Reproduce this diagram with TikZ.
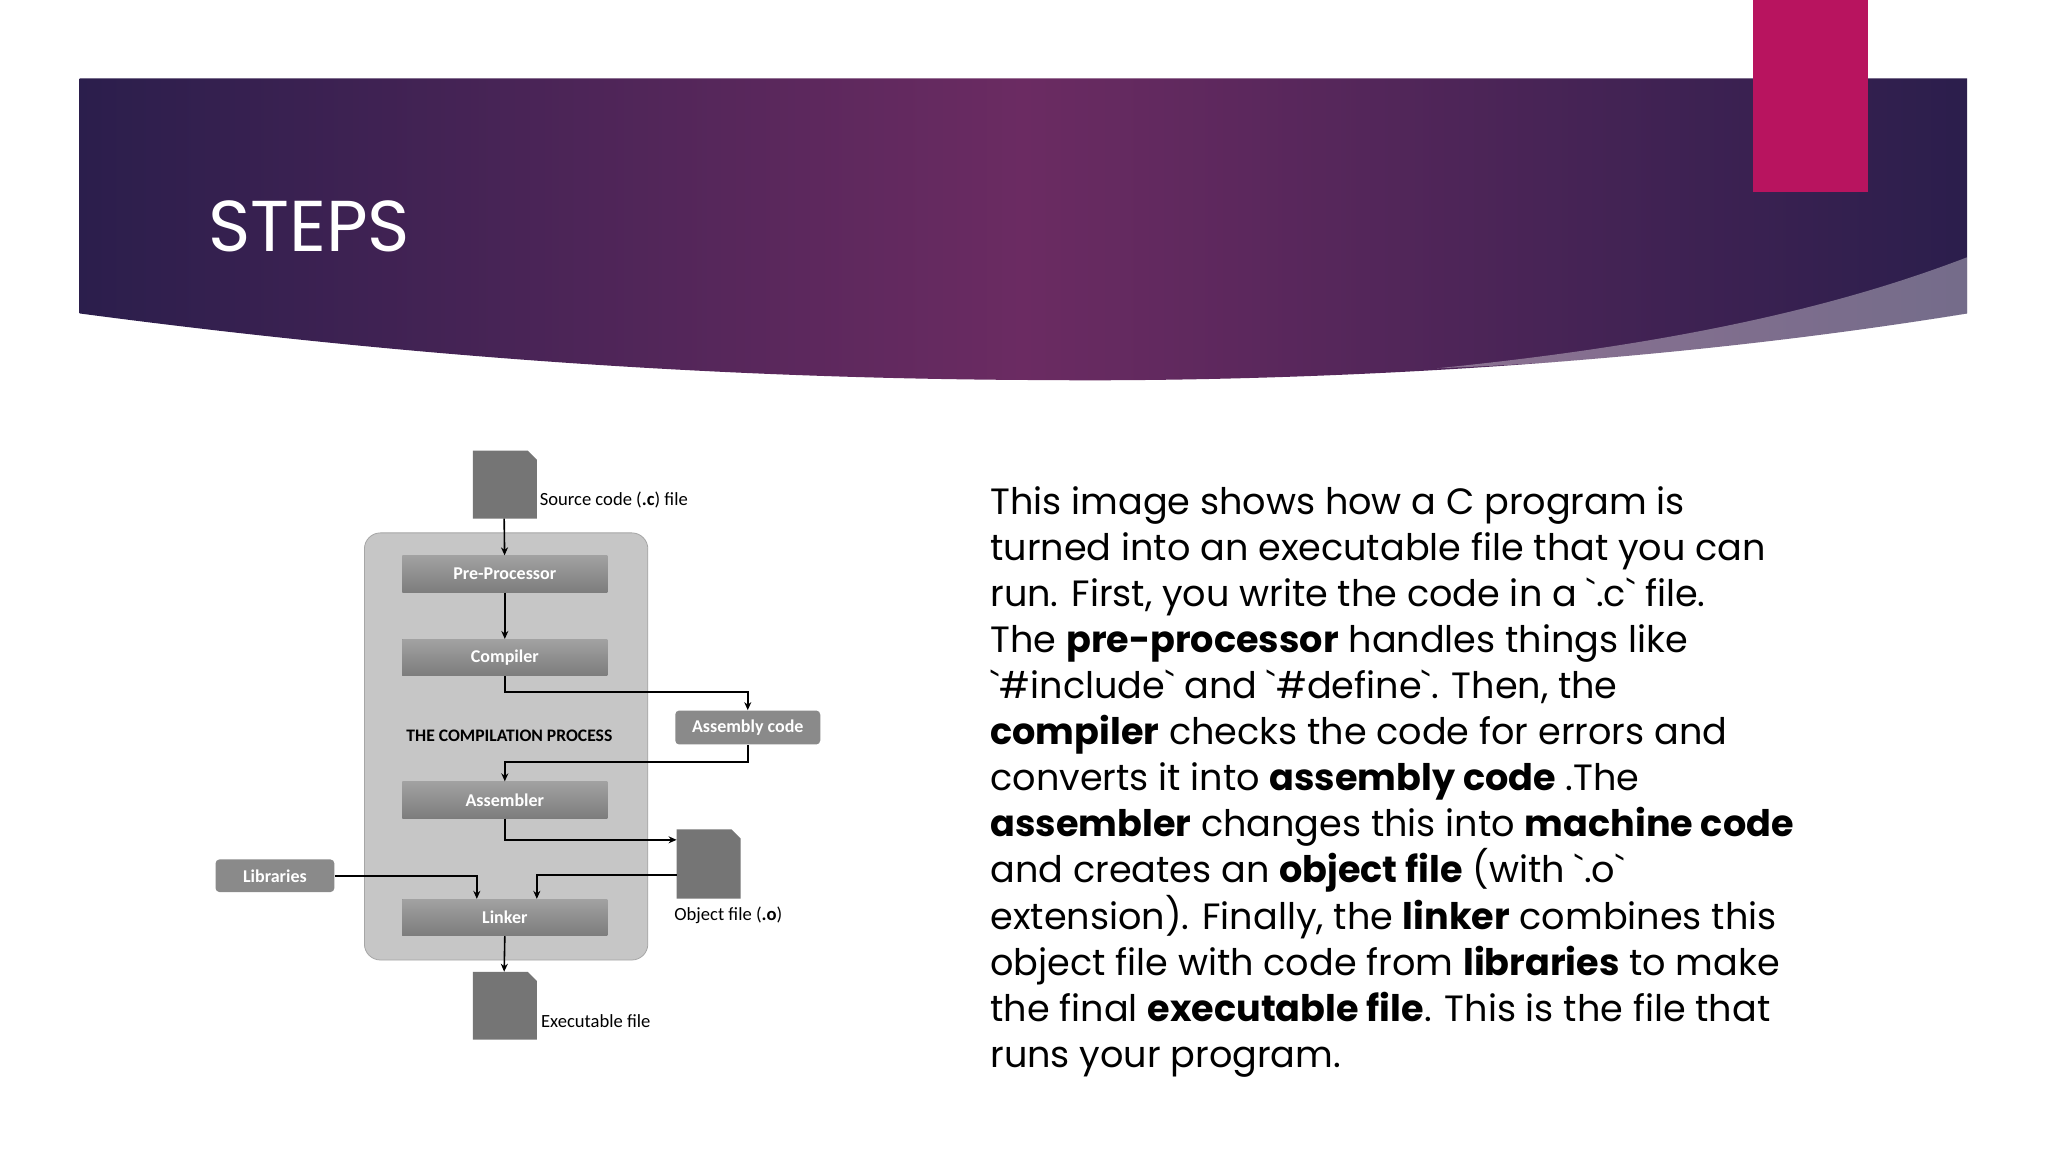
\documentclass[tikz,border=0pt]{standalone}
\usepackage{fontspec}
\setmainfont{Poppins}
\newfontfamily\dfont{Carlito}
\usetikzlibrary{arrows.meta}
\definecolor{pink}{HTML}{B8145F}
\definecolor{pdark}{HTML}{2B1E4C}
\definecolor{pmid}{HTML}{6B2B62}
\definecolor{boxg}{HTML}{8A8A8A}
\tikzset{
 stage/.style={draw=none,fill=boxg,top color=boxg!80!white,bottom color=boxg!90!black,minimum width=157*0.653pt,minimum height=28*0.653pt,inner sep=0pt,text=white,font=\dfont\bfseries\fontsize{9}{10}\selectfont},
 gbox/.style={fill=boxg,rounded corners=2pt,inner sep=0pt,text=white,font=\dfont\bfseries\fontsize{9}{10}\selectfont},
 lbl/.style={font=\dfont\fontsize{9.3}{10}\selectfont,anchor=west,inner sep=0pt},
 arr/.style={-{Stealth[length=4pt,width=3.5pt]},line width=0.8pt},
 doc/.style={fill=boxg!85!black}
}
\begin{document}
\begin{tikzpicture}[x=0.653pt,y=-0.653pt]
\useasboundingbox (0,0) rectangle (1568,882);
\fill[white] (0,0) rectangle (1568,882);
% header band
\shade[left color=pdark,right color=pdark,middle color=pmid] (61,60) -- (1506,60) -- (1506,240) .. controls (1200,290) and (900,292) .. (800,291) .. controls (500,290) and (250,265) .. (61,240) -- cycle;
\fill[white,opacity=0.35] (1100,282) .. controls (1300,262) and (1420,230) .. (1506,197) -- (1506,240) .. controls (1380,262) and (1250,276) .. (1100,282) -- cycle;
\fill[pink] (1342,0) rectangle (1430,147);
\node[anchor=west,text=white,font=\fontsize{36}{40}\selectfont,inner sep=0pt] (title) at (159,173) {STEPS};
% diagram
\node[draw=gray!70,fill=gray!45,rounded corners=8pt,minimum width=217*0.653pt,minimum height=327*0.653pt,inner sep=0pt] (outer) at (387.5,571.5) {};
\fill[doc] (362,345) -- (404,345) -- (411,352) -- (411,397) -- (362,397) -- cycle;
\coordinate (src) at (386,397);
\node[lbl] (srcl) at (413,383) {Source code (\textbf{.c}) file};
\node[stage] (pre) at (386.5,439.5) {Pre-Processor};
\node[stage] (comp) at (386.5,503.5) {Compiler};
\node[gbox,minimum width=111*0.653pt,minimum height=26*0.653pt] (asm) at (572.5,557) {Assembly code};
\node[font=\dfont\bfseries\fontsize{8.8}{9}\selectfont] (title2) at (390,563) {THE COMPILATION PROCESS};
\node[stage] (as) at (386.5,612.5) {Assembler};
\fill[doc] (518,635) -- (560,635) -- (567,642) -- (567,688) -- (518,688) -- cycle;
\coordinate (objL) at (518,643);
\coordinate (objL2) at (518,670);
\node[lbl] (objl) at (516,701) {Object file (\textbf{.o})};
\node[gbox,minimum width=91*0.653pt,minimum height=25*0.653pt] (lib) at (210.5,670.5) {Libraries};
\node[stage] (link) at (386.5,702.5) {Linker};
\fill[doc] (362,744) -- (404,744) -- (411,751) -- (411,796) -- (362,796) -- cycle;
\coordinate (exe) at (386,744);
\node[lbl] (exel) at (414,782) {Executable file};
\draw[arr] (src) -- (pre);
\draw[arr] (pre) -- (comp);
\draw[arr] (comp.south) -- ++(0,12) -| (asm.north);
\draw[arr] (asm.south) -- ++(0,13) -| (as.north);
\draw[arr] (as.south) |- (objL);
\draw[arr] (lib.east) -| ([xshift=-14]link.north);
\draw[arr] (objL2) -| ([xshift=16]link.north);
\draw[arr] (link.south) -- (exe);
% text
\node[anchor=north west,align=left,inner sep=0pt,font=\fontsize{18.3}{23.05}\selectfont] (txt) at (758,372) {This image shows how a C program is\\
turned into an executable file that you can\\
run. First, you write the code in a \textasciigrave.c\textasciigrave{} file.\\
The \textbf{pre-processor} handles things like\\
\textasciigrave\#include\textasciigrave{} and \textasciigrave\#define\textasciigrave. Then, the\\
\textbf{compiler} checks the code for errors and\\
converts it into \textbf{assembly code} .The\\
\textbf{assembler} changes this into \textbf{machine code}\\
and creates an \textbf{object file} (with \textasciigrave.o\textasciigrave\\
extension). Finally, the \textbf{linker} combines this\\
object file with code from \textbf{libraries} to make\\
the final \textbf{executable file}. This is the file that\\
runs your program.};
\end{tikzpicture}
\end{document}
